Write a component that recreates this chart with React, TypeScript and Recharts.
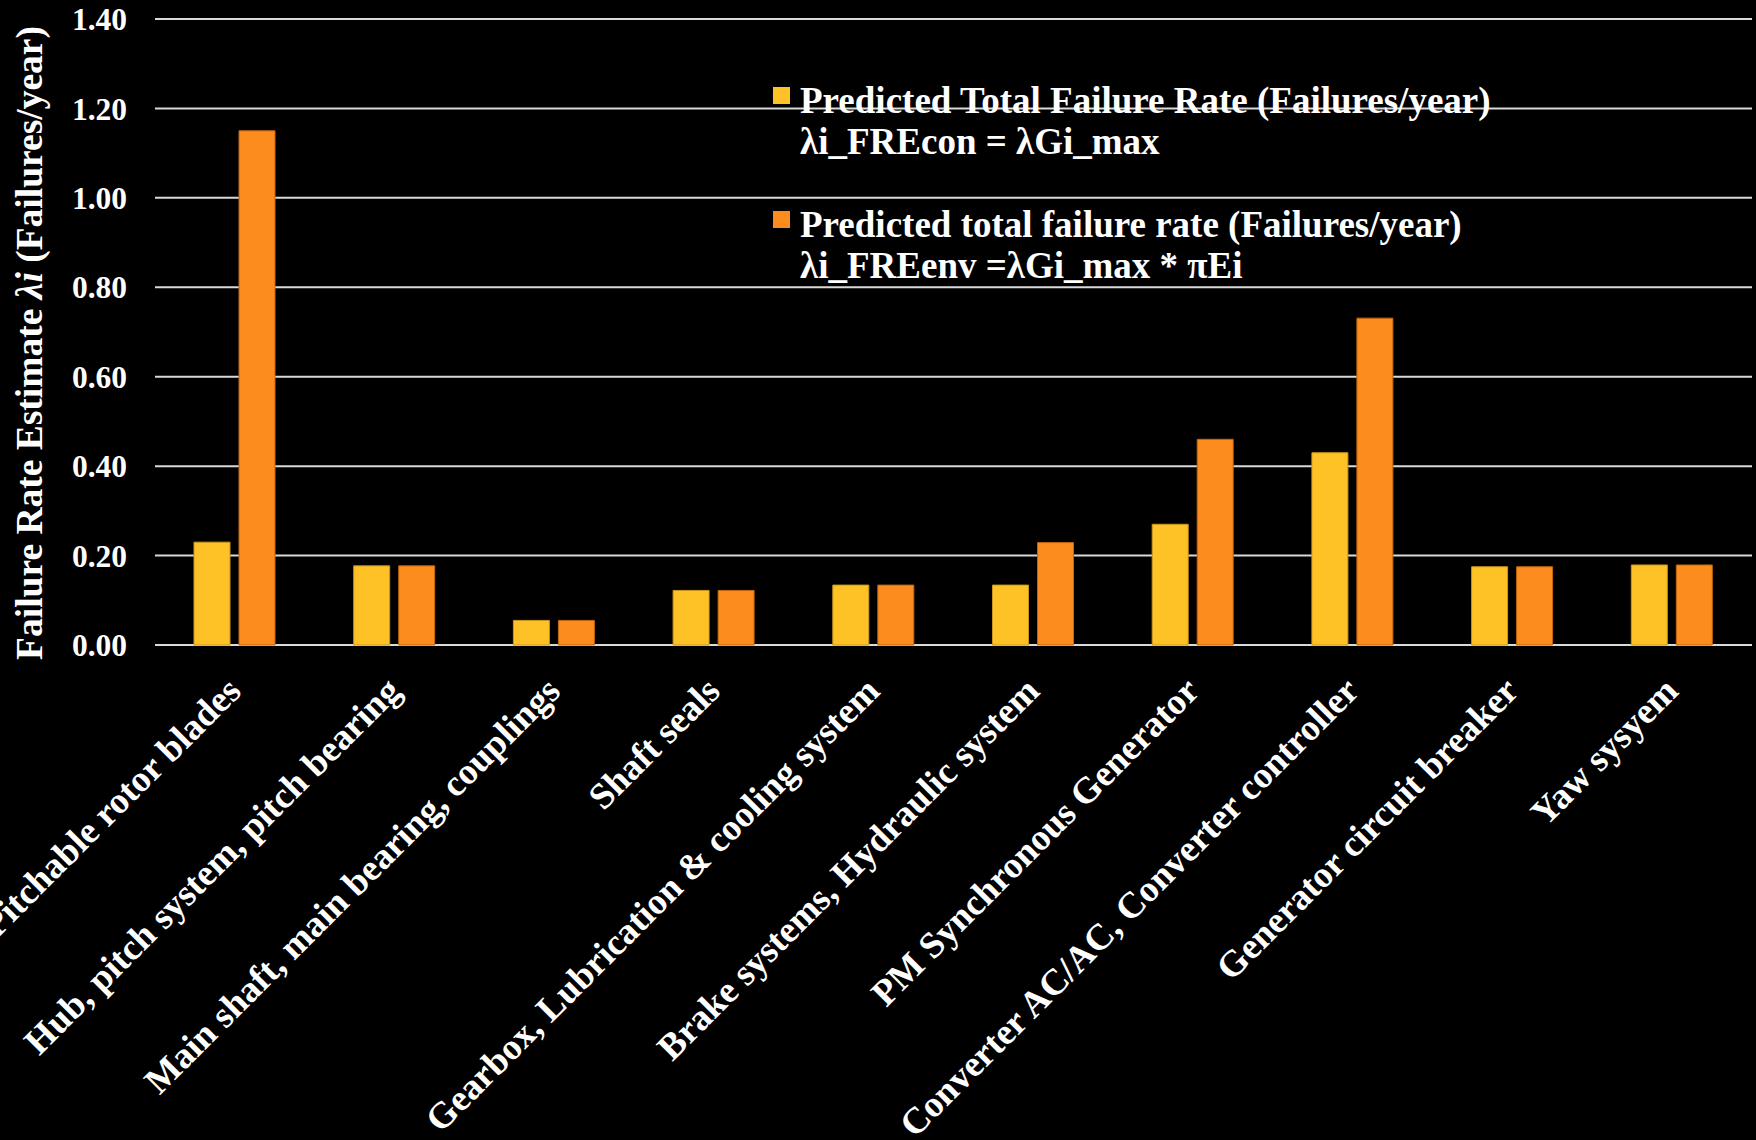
import { BarChart, Bar, XAxis, YAxis, CartesianGrid, Legend } from 'recharts'

const categories = [
  'Pitchable rotor blades',
  'Hub, pitch system, pitch bearing',
  'Main shaft, main bearing, couplings',
  'Shaft seals',
  'Gearbox, Lubrication & cooling system',
  'Brake systems, Hydraulic system',
  'PM Synchronous Generator',
  'Converter AC/AC, Converter controller',
  'Generator circuit breaker',
  'Yaw sysyem',
]
const freCon = [0.23, 0.177, 0.055, 0.122, 0.134, 0.134, 0.27, 0.43, 0.175, 0.179]
const freEnv = [1.15, 0.177, 0.055, 0.122, 0.134, 0.229, 0.46, 0.731, 0.175, 0.179]
const seriesNames = [
  'Predicted Total Failure Rate (Failures/year)',
  'Predicted total failure rate (Failures/year)',
]
const seriesFormulas = ['λi_FREcon = λGi_max', 'λi_FREenv =λGi_max * πEi']
const yTicks = [0, 0.2, 0.4, 0.6, 0.8, 1.0, 1.2, 1.4]

const data = categories.map((name, i) => ({ name, con: freCon[i], env: freEnv[i] }))

const FONT = "'Liberation Serif', 'Times New Roman', serif"

function CategoryTick({ x, y, payload }: any) {
  return (
    <text
      transform={`translate(${x + 8},${y + 40}) rotate(-45)`}
      textAnchor="end"
      fill="#fff"
      fontFamily={FONT}
      fontWeight="bold"
      fontSize={37}
    >
      {payload.value}
    </text>
  )
}

function YLabel() {
  return (
    <text
      transform="translate(42,343) rotate(-90)"
      textAnchor="middle"
      fill="#fff"
      fontFamily={FONT}
      fontWeight="bold"
      fontSize={37.5}
    >
      Failure Rate Estimate <tspan fontStyle="italic">λi</tspan> (Failures/year)
    </text>
  )
}

function LegendBox({ payload }: any) {
  return (
    <div style={{ position: 'relative', fontFamily: FONT, fontWeight: 'bold', fontSize: 37, color: '#fff' }}>
      {(payload || []).map((p: any, i: number) => (
        <div key={p.value} style={{ position: 'absolute', top: i * 124, left: 0, whiteSpace: 'nowrap' }}>
          <div style={{ position: 'absolute', top: 7, left: 0, width: 17, height: 17, background: p.color }} />
          <div style={{ marginLeft: 27, lineHeight: '41px' }}>
            <div>{p.value}</div>
            <div>{seriesFormulas[i]}</div>
          </div>
        </div>
      ))}
    </div>
  )
}

export default function App() {
  return (
    <div style={{ position: 'fixed', top: 0, left: 0, width: 1756, height: 1140, background: '#000' }}>
      <BarChart
        width={1756}
        height={1140}
        data={data}
        margin={{ top: 19, right: 4, left: 0, bottom: 0 }}
        barSize={36}
        barGap={9}
      >
        <CartesianGrid vertical={false} stroke="#DADADA" strokeWidth={2} />
        <XAxis
          dataKey="name"
          height={495}
          interval={0}
          axisLine={false}
          tickLine={false}
          tick={<CategoryTick />}
        />
        <YAxis
          width={155}
          domain={[0, 1.4]}
          ticks={yTicks}
          axisLine={false}
          tickLine={false}
          tickMargin={22}
          tickFormatter={(v: number) => v.toFixed(2)}
          tick={{ fill: '#fff', fontFamily: FONT, fontWeight: 'bold', fontSize: 31.5 }}
          label={{ content: () => <YLabel /> }}
        />
        <Legend
          layout="horizontal"
          verticalAlign="middle"
          align="center"
          content={<LegendBox />}
          wrapperStyle={{ left: 773, top: 80, width: 950 }}
        />
        <Bar dataKey="con" name={seriesNames[0]} fill="#FFC226" stroke="#C9961A" strokeWidth={1} isAnimationActive={false} />
        <Bar dataKey="env" name={seriesNames[1]} fill="#FC8C1D" stroke="#C0650E" strokeWidth={1} isAnimationActive={false} />
      </BarChart>
    </div>
  )
}
